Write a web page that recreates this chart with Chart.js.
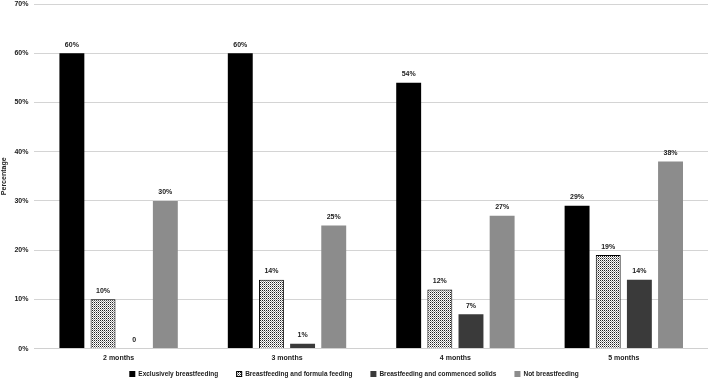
<!DOCTYPE html>
<html lang="en">
<head>
    <meta charset="UTF-8" />
    <title>Breastfeeding by month</title>
    <script src="https://cdn.jsdelivr.net/npm/chart.js"></script>
    <style>
        html, body { margin: 0; padding: 0; background: #fff; }
        #wrap { width: 708px; height: 379px; }
    </style>
</head>
<body>
    <div id="wrap"><canvas id="feedChart"></canvas></div>

    <script>
        const months = ['2 months', '3 months', '4 months', '5 months'];
        const exclusive = [60, 60, 54, 29];
        const formula = [10, 14, 12, 19];
        const solids = [0, 1, 7, 14];
        const notBreastfeeding = [30, 25, 27, 38];
        const seriesNames = ['Exclusively breastfeeding', 'Breastfeeding and formula feeding',
            'Breastfeeding and commenced solids', 'Not breastfeeding'];
        const yTicks = [0, 10, 20, 30, 40, 50, 60, 70];

        const FONT = '"Liberation Sans", sans-serif';

        // dotted fill for the formula feeding bars
        function makeDots() {
            const c = document.createElement('canvas');
            c.width = 2; c.height = 2;
            const g = c.getContext('2d');
            g.fillStyle = '#ffffff';
            g.fillRect(0, 0, 2, 2);
            g.fillStyle = '#222222';
            g.fillRect(0, 0, 1, 1);
            g.fillStyle = '#9a9a9a';
            g.fillRect(1, 1, 1, 1);
            return g.createPattern(c, 'repeat');
        }
        const dots = makeDots();

        const valueLabels = {
            id: 'valueLabels',
            afterDatasetsDraw(chart) {
                const ctx = chart.ctx;
                ctx.save();
                ctx.font = 'bold 7px ' + FONT;
                ctx.fillStyle = '#222';
                ctx.textAlign = 'center';
                ctx.textBaseline = 'bottom';
                chart.data.datasets.forEach((ds, i) => {
                    chart.getDatasetMeta(i).data.forEach((bar, j) => {
                        const v = ds.data[j];
                        const txt = v === 0 ? '0' : v + '%';
                        ctx.fillText(txt, bar.x, bar.y - 5);
                    });
                });
                ctx.restore();
            }
        };

        // legend drawn by hand: wide gaps between items, thin row
        const bottomLegend = {
            id: 'bottomLegend',
            afterDraw(chart) {
                const ctx = chart.ctx;
                const box = 6, gap = 3, spacing = 18;
                ctx.save();
                ctx.font = 'bold 6.5px ' + FONT;
                const items = chart.data.datasets.map(ds => ({
                    ds, w: box + gap + ctx.measureText(ds.label).width
                }));
                const total = items.reduce((a, it) => a + it.w, 0) + spacing * (items.length - 1);
                let x = (chart.width - total) / 2;
                const y = chart.height - 5;
                items.forEach((it, i) => {
                    ctx.fillStyle = it.ds.backgroundColor;
                    ctx.fillRect(x, y - box / 2, box, box);
                    if (i === 1) {
                        ctx.strokeStyle = '#000';
                        ctx.lineWidth = 1;
                        ctx.strokeRect(x + 0.5, y - box / 2 + 0.5, box - 1, box - 1);
                    }
                    ctx.fillStyle = '#222';
                    ctx.textAlign = 'left';
                    ctx.textBaseline = 'middle';
                    ctx.fillText(it.ds.label, x + box + gap, y);
                    x += it.w + spacing;
                });
                ctx.restore();
            }
        };

        const common = { barPercentage: 0.8, categoryPercentage: 0.74 };

        new Chart(document.getElementById('feedChart'), {
            type: 'bar',
            data: {
                labels: months,
                datasets: [
                    Object.assign({ label: seriesNames[0], data: exclusive, backgroundColor: '#000000' }, common),
                    Object.assign({ label: seriesNames[1], data: formula, backgroundColor: dots,
                        borderColor: '#000000', borderWidth: 1 }, common),
                    Object.assign({ label: seriesNames[2], data: solids, backgroundColor: '#3a3a3a' }, common),
                    Object.assign({ label: seriesNames[3], data: notBreastfeeding, backgroundColor: '#8c8c8c' }, common)
                ]
            },
            options: {
                responsive: true,
                maintainAspectRatio: false,
                animation: false,
                layout: { padding: { top: 4, right: 0, left: 0, bottom: 12 } },
                plugins: {
                    legend: { display: false },
                    tooltip: { enabled: false }
                },
                scales: {
                    x: {
                        grid: { display: false, drawTicks: false, tickLength: 0 },
                        border: { color: '#d0d0d0' },
                        ticks: { font: { family: FONT, size: 7, weight: 'bold' }, color: '#222', padding: 5 }
                    },
                    y: {
                        min: 0,
                        max: 70,
                        afterBuildTicks(axis) {
                            axis.ticks = yTicks.map(v => ({ value: v }));
                        },
                        afterFit(axis) {
                            // let the top gridline sit near the canvas edge
                            axis.paddingTop = 0;
                        },
                        border: { display: false },
                        grid: { color: '#d4d4d4', drawTicks: false },
                        ticks: {
                            font: { family: FONT, size: 7, weight: 'bold' },
                            color: '#222',
                            padding: 6,
                            callback: v => v + '%'
                        },
                        title: {
                            display: true,
                            text: 'Percentage',
                            font: { family: FONT, size: 7, weight: 'bold' },
                            color: '#222',
                            padding: 0
                        }
                    }
                }
            },
            plugins: [valueLabels, bottomLegend]
        });
    </script>
</body>
</html>
